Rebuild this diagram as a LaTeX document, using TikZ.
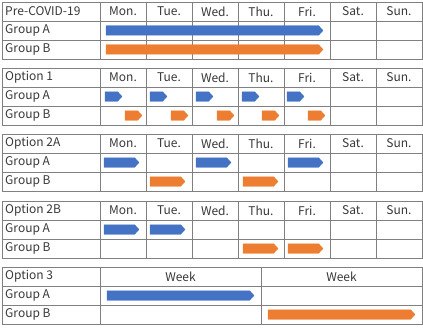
\documentclass[tikz,border=0pt]{standalone}
\usepackage{fontspec}
\setmainfont{Noto Sans CJK JP}
\usepackage{tikz}
\usetikzlibrary{shapes.symbols}
\definecolor{gridcolor}{rgb}{0.50,0.50,0.50}
\definecolor{textcolor}{rgb}{0.22,0.22,0.22}
\definecolor{groupacolor}{rgb}{0.267,0.447,0.769}
\definecolor{groupbcolor}{rgb}{0.929,0.490,0.192}

\begin{document}
\begin{tikzpicture}[x=1pt, y=-1pt,
    gridline/.style={draw=gridcolor, line width=0.9pt},
    cell/.style={align=center, inner sep=0pt, text=textcolor, font=\fontsize{12}{13}\selectfont},
    rowlabel/.style={cell, anchor=west},
    bara/.style={signal, signal to=east, signal pointer angle=95, fill=groupacolor, draw=groupacolor, line width=0.3pt, inner sep=0pt, outer sep=0pt, minimum height=9.5pt, anchor=west},
    barb/.style={bara, fill=groupbcolor, draw=groupbcolor}]
\useasboundingbox (0,0) rectangle (423,329);
        \begin{scope}
% Pre-COVID-19
\draw[gridline] (2,2) rectangle (422,59) (2,21) -- (422,21) (2,40) -- (422,40);
\draw[gridline] (100,2) -- (100,59) (146,2) -- (146,59) (192,2) -- (192,59) (238,2) -- (238,59) (284,2) -- (284,59) (330,2) -- (330,59) (376,2) -- (376,59);
\node[rowlabel] (pre) at (5,11.5) {Pre-COVID-19};
\node[rowlabel] (prea) at (5,30.5) {Group A};
\node[rowlabel] (preb) at (5,49.5) {Group B};
\node[cell] (premon) at (123,11.5) {Mon.};
\node[cell] (pretue) at (169,11.5) {Tue.};
\node[cell] (prewed) at (215,11.5) {Wed.};
\node[cell] (prethu) at (261,11.5) {Thu.};
\node[cell] (prefri) at (307,11.5) {Fri.};
\node[cell] (presat) at (353,11.5) {Sat.};
\node[cell] (presun) at (399,11.5) {Sun.};
\node[bara, minimum width=217pt] (prebara) at (106,30.5) {};
\node[barb, minimum width=217pt] (prebarb) at (106,49.5) {};
% Option 1
\draw[gridline] (2,68) rectangle (422,125) (2,87) -- (422,87) (2,106) -- (422,106);
\draw[gridline] (100,68) -- (100,125) (146,68) -- (146,125) (192,68) -- (192,125) (238,68) -- (238,125) (284,68) -- (284,125) (330,68) -- (330,125) (376,68) -- (376,125);
\node[rowlabel] (opa) at (5,77.5) {Option 1};
\node[rowlabel] (opaa) at (5,96.5) {Group A};
\node[rowlabel] (opab) at (5,115.5) {Group B};
\node[cell] (opamon) at (123,77.5) {Mon.};
\node[cell] (opatue) at (169,77.5) {Tue.};
\node[cell] (opawed) at (215,77.5) {Wed.};
\node[cell] (opathu) at (261,77.5) {Thu.};
\node[cell] (opafri) at (307,77.5) {Fri.};
\node[cell] (opasat) at (353,77.5) {Sat.};
\node[cell] (opasun) at (399,77.5) {Sun.};
\node[bara, minimum width=17pt] (opaa1) at (105,96.5) {};
\node[bara, minimum width=17pt] (opaa2) at (150,96.5) {};
\node[bara, minimum width=17pt] (opaa3) at (196,96.5) {};
\node[bara, minimum width=17pt] (opaa4) at (242,96.5) {};
\node[bara, minimum width=17pt] (opaa5) at (287,96.5) {};
\node[barb, minimum width=17pt] (opab1) at (125,115.5) {};
\node[barb, minimum width=17pt] (opab2) at (171,115.5) {};
\node[barb, minimum width=17pt] (opab3) at (217,115.5) {};
\node[barb, minimum width=17pt] (opab4) at (262,115.5) {};
\node[barb, minimum width=17pt] (opab5) at (308,115.5) {};
% Option 2A
\draw[gridline] (2,134) rectangle (422,191) (2,153) -- (422,153) (2,172) -- (422,172);
\draw[gridline] (100,134) -- (100,191) (146,134) -- (146,191) (192,134) -- (192,191) (238,134) -- (238,191) (284,134) -- (284,191) (330,134) -- (330,191) (376,134) -- (376,191);
\node[rowlabel] (opb) at (5,143.5) {Option 2A};
\node[rowlabel] (opba) at (5,162.5) {Group A};
\node[rowlabel] (opbb) at (5,181.5) {Group B};
\node[cell] (opbmon) at (123,143.5) {Mon.};
\node[cell] (opbtue) at (169,143.5) {Tue.};
\node[cell] (opbwed) at (215,143.5) {Wed.};
\node[cell] (opbthu) at (261,143.5) {Thu.};
\node[cell] (opbfri) at (307,143.5) {Fri.};
\node[cell] (opbsat) at (353,143.5) {Sat.};
\node[cell] (opbsun) at (399,143.5) {Sun.};
\node[bara, minimum width=35pt] (opba1) at (104,162.5) {};
\node[bara, minimum width=35pt] (opba3) at (196,162.5) {};
\node[bara, minimum width=35pt] (opba5) at (288,162.5) {};
\node[barb, minimum width=35pt] (opbb2) at (150,181.5) {};
\node[barb, minimum width=35pt] (opbb4) at (243,181.5) {};
% Option 2B
\draw[gridline] (2,201) rectangle (422,258) (2,220) -- (422,220) (2,239) -- (422,239);
\draw[gridline] (100,201) -- (100,258) (146,201) -- (146,258) (192,201) -- (192,258) (238,201) -- (238,258) (284,201) -- (284,258) (330,201) -- (330,258) (376,201) -- (376,258);
\node[rowlabel] (opc) at (5,210.5) {Option 2B};
\node[rowlabel] (opca) at (5,229.5) {Group A};
\node[rowlabel] (opcb) at (5,248.5) {Group B};
\node[cell] (opcmon) at (123,210.5) {Mon.};
\node[cell] (opctue) at (169,210.5) {Tue.};
\node[cell] (opcwed) at (215,210.5) {Wed.};
\node[cell] (opcthu) at (261,210.5) {Thu.};
\node[cell] (opcfri) at (307,210.5) {Fri.};
\node[cell] (opcsat) at (353,210.5) {Sat.};
\node[cell] (opcsun) at (399,210.5) {Sun.};
\node[bara, minimum width=35pt] (opca1) at (104,229.5) {};
\node[bara, minimum width=35pt] (opca2) at (150,229.5) {};
\node[barb, minimum width=35pt] (opcb4) at (243,248.5) {};
\node[barb, minimum width=35pt] (opcb5) at (288,248.5) {};
% Option 3
\draw[gridline] (2,267) rectangle (422,324) (2,286) -- (422,286) (2,305) -- (422,305);
\draw[gridline] (100,267) -- (100,324) (261,267) -- (261,324);
\node[rowlabel] (opd) at (5,276.5) {Option 3};
\node[rowlabel] (opda) at (5,295.5) {Group A};
\node[rowlabel] (opdb) at (5,314.5) {Group B};
\node[cell] (opdweeka) at (180.5,276.5) {Week};
\node[cell] (opdweekb) at (341.5,276.5) {Week};
\node[bara, minimum width=147pt] (opdbara) at (107,295.5) {};
\node[barb, minimum width=147pt] (opdbarb) at (268,314.5) {};
\end{scope}
    \end{tikzpicture}
\end{document}
